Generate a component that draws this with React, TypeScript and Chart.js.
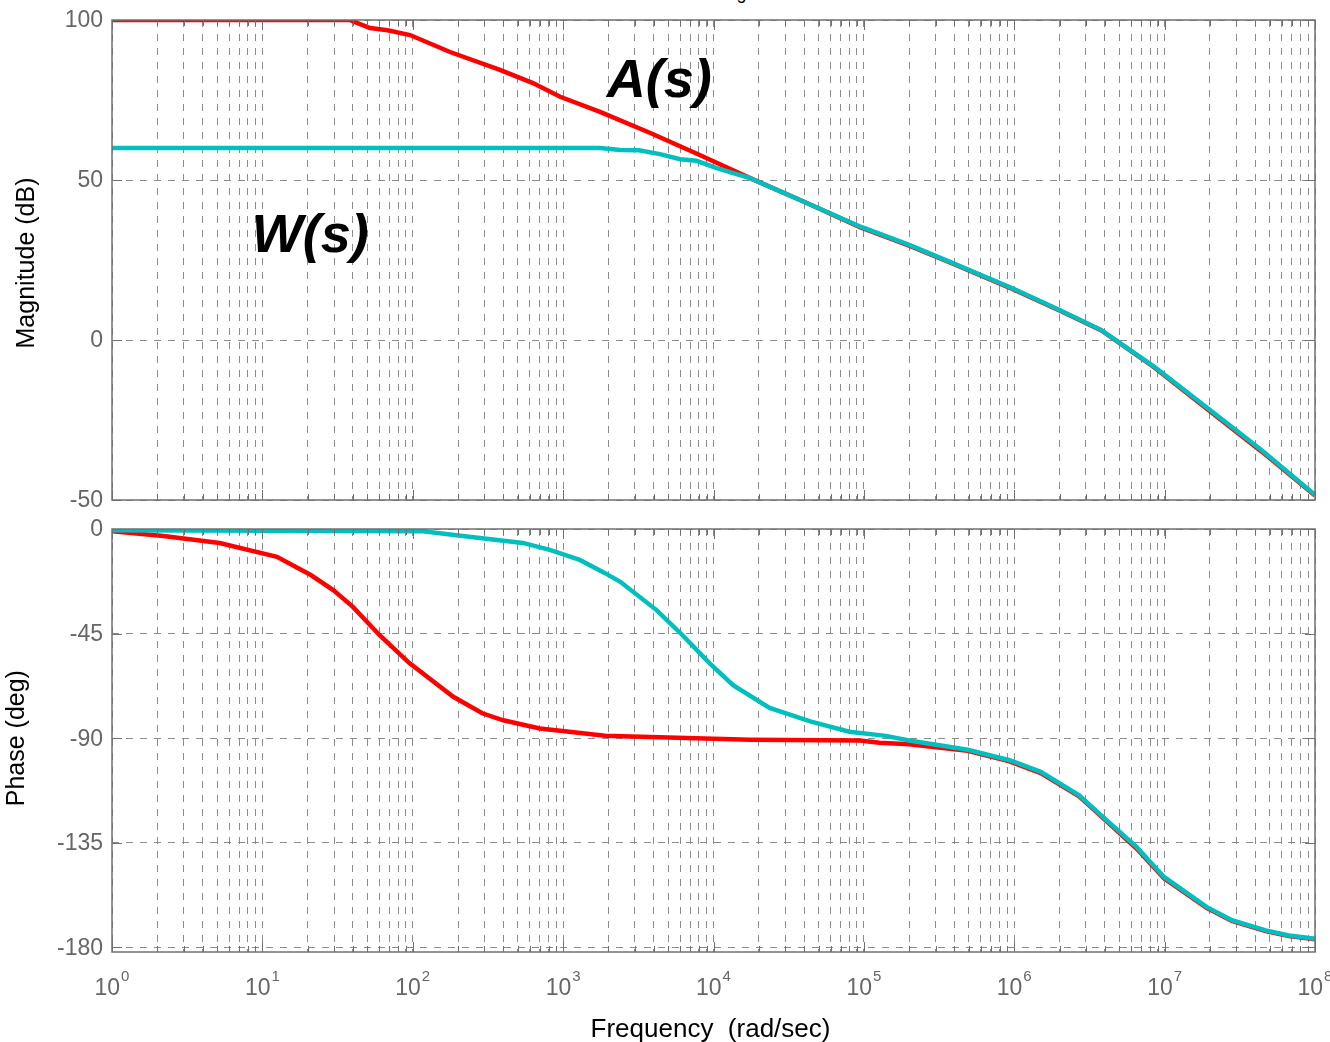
import React, { useEffect, useRef } from "react";
import { Chart, registerables } from "chart.js";
Chart.register(...registerables);

// ---------- data ----------
const decadeExponents = [0, 1, 2, 3, 4, 5, 6, 7, 8];
const magTicks = [100, 50, 0, -50];
const phaseTicks = [0, -45, -90, -135, -180];

// A(s) magnitude (red)
const magFreqA = [1, 38, 52, 68, 96, 177, 380, 630, 955, 1760, 3800, 8100, 17500, 40000, 95000, 2e5, 3.7e5, 9.8e5, 2e6, 3.8e6, 8.5e6, 1.87e7, 4.4e7, 1e8];
const magA = [100, 100, 97.5, 96.8, 95.3, 90, 84.4, 80.3, 76, 71.3, 64.7, 57.8, 50.6, 43.2, 35.2, 29.5, 24.3, 15.9, 9.2, 3.0, -8.5, -21.2, -34.8, -48.6];

// W(s) magnitude (cyan)
const magFreqW = [1, 1760, 2400, 3200, 4400, 6000, 7700, 10500, 17500, 40000, 95000, 2e5, 3.7e5, 9.8e5, 2e6, 3.8e6, 8.5e6, 1.87e7, 4.4e7, 1e8];
const magW = [60, 60, 59.4, 59.3, 58.1, 56.5, 56, 53.7, 50.6, 43.2, 35.4, 29.7, 24.5, 16.1, 9.4, 3.1, -8.3, -20.8, -34.4, -48.4];

// A(s) phase (red)
const phFreqA = [1, 2.2, 5.2, 12.5, 21, 29.6, 40, 60, 95, 186, 290, 400, 700, 1900, 17500, 94000, 1.27e5, 2e5, 4.9e5, 9.3e5, 1.5e6, 2.7e6, 4e6, 6.5e6, 9.9e6, 1.9e7, 2.8e7, 4.7e7, 6.7e7, 1e8];
const phA = [-1, -3, -6, -12, -19.8, -26.3, -33.5, -45.6, -57.7, -72.2, -79.3, -82.3, -85.8, -89, -90.7, -91, -92, -92.6, -95.4, -100, -105, -115, -125, -137.5, -150.3, -163, -168.6, -173, -175.1, -176.5];

// W(s) phase (cyan)
const phFreqW = [1, 117, 215, 540, 815, 1290, 1900, 2400, 4200, 6200, 9400, 13500, 23600, 44000, 80000, 1.4e5, 2e5, 4.9e5, 9.3e5, 1.5e6, 2.7e6, 4e6, 6.5e6, 9.9e6, 1.9e7, 2.8e7, 4.7e7, 6.7e7, 1e8];
const phW = [-0.5, -1, -3, -6, -9, -13.3, -19, -22.7, -35, -45.6, -57.7, -67.2, -77, -82.8, -87.2, -89, -91, -95, -99.5, -104.5, -114.6, -124.6, -136.8, -149.7, -162.6, -168.3, -172.7, -174.9, -176.3];

// curve labels
const curveLabels = ["A(s)", "W(s)"];
const curveLabelFreqs = [1950, 8.5];
const curveLabelMags = [75.9, 27.5];

const COLOR_A = "#ff0000";
const COLOR_W = "#00bfbf";
const FONT = "'Liberation Sans', Arial, Helvetica, sans-serif";
const GRID = "#8c8c8c";
const FRAME = "#707070";
const TICKCOL = "#666666";

// grid positions on a log axis (1..9 × each decade)
const xGridValues: number[] = [];
for (let d = 0; d < 8; d++) for (let k = 1; k <= 9; k++) xGridValues.push(k * Math.pow(10, d));
xGridValues.push(1e8);

const pts = (xs: number[], ys: number[]) => xs.map((x, i) => ({ x, y: ys[i] }));

function framePlugin(yTicks: number[]) {
  return {
    id: "frame",
    afterDraw(chart: any) {
      const { ctx, chartArea: a, scales } = chart;
      ctx.save();
      ctx.strokeStyle = FRAME;
      ctx.lineWidth = 1;
      ctx.setLineDash([]);
      ctx.beginPath();
      for (const v of xGridValues) {
        const px = Math.round(scales.x.getPixelForValue(v)) + 0.5;
        const major = Math.abs(Math.log10(v) - Math.round(Math.log10(v))) < 1e-9;
        const len = major ? 10 : 6;
        ctx.moveTo(px, a.top);
        ctx.lineTo(px, a.top + len);
        ctx.moveTo(px, a.bottom);
        ctx.lineTo(px, a.bottom - len);
      }
      for (const v of yTicks) {
        const py = Math.round(scales.y.getPixelForValue(v)) + 0.5;
        ctx.moveTo(a.left, py);
        ctx.lineTo(a.left + 10, py);
        ctx.moveTo(a.right, py);
        ctx.lineTo(a.right - 10, py);
      }
      ctx.stroke();
      ctx.lineWidth = 1.5;
      ctx.strokeRect(a.left, a.top, a.right - a.left, a.bottom - a.top);
      // y tick labels
      ctx.fillStyle = TICKCOL;
      ctx.font = `23px ${FONT}`;
      ctx.textAlign = "right";
      ctx.textBaseline = "middle";
      for (const v of yTicks) {
        ctx.fillText(String(v), a.left - 9, scales.y.getPixelForValue(v) + 1);
      }
      ctx.restore();
    },
  };
}

function baseOptions(yMin: number, yMax: number, yTicks: number[], xHeight: number, padding: any) {
  return {
    responsive: false,
    animation: false as const,
    devicePixelRatio: 1,
    layout: { padding },
    plugins: { legend: { display: false }, tooltip: { enabled: false }, title: { display: false } },
    elements: { point: { radius: 0 }, line: { tension: 0 } },
    scales: {
      x: {
        type: "logarithmic" as const,
        min: 1,
        max: 1e8,
        afterBuildTicks: (s: any) => {
          s.ticks = xGridValues.map((v) => ({ value: v }));
        },
        afterFit: (s: any) => {
          s.height = xHeight;
        },
        ticks: { display: false },
        grid: { color: GRID, lineWidth: 1, drawTicks: false, borderDash: [7, 7] },
        border: { display: false, dash: [7, 7] },
      },
      y: {
        type: "linear" as const,
        min: yMin,
        max: yMax,
        afterBuildTicks: (s: any) => {
          s.ticks = yTicks.map((v) => ({ value: v }));
        },
        afterFit: (s: any) => {
          s.width = 112;
        },
        ticks: { display: false },
        grid: { color: GRID, lineWidth: 1, drawTicks: false, borderDash: [7, 7] },
        border: { display: false, dash: [7, 7] },
      },
    },
  };
}

export default function App() {
  const topRef = useRef<HTMLCanvasElement>(null);
  const botRef = useRef<HTMLCanvasElement>(null);

  useEffect(() => {
    const topOpts: any = baseOptions(-50, 100, magTicks, 0, { left: 0, top: 20, right: 15, bottom: 10 });
    const topChart = new Chart(topRef.current!, {
      type: "line",
      data: {
        datasets: [
          { data: pts(magFreqW, magW), borderColor: COLOR_W, borderWidth: 4.5, pointRadius: 0, fill: false },
          { data: pts(magFreqA, magA), borderColor: COLOR_A, borderWidth: 4.5, pointRadius: 0, fill: false },
        ],
      },
      options: topOpts,
      plugins: [
        framePlugin(magTicks),
        {
          id: "topText",
          afterDraw(chart: any) {
            const { ctx, scales } = chart;
            ctx.save();
            ctx.fillStyle = "#000";
            ctx.font = `italic bold 54px ${FONT}`;
            ctx.textBaseline = "alphabetic";
            ctx.textAlign = "left";
            curveLabels.forEach((t, i) => {
              ctx.fillText(t, scales.x.getPixelForValue(curveLabelFreqs[i]), scales.y.getPixelForValue(curveLabelMags[i]));
            });
            ctx.font = `25px ${FONT}`;
            ctx.textAlign = "center";
            ctx.textBaseline = "middle";
            ctx.translate(27, 263);
            ctx.rotate(-Math.PI / 2);
            ctx.fillText("Magnitude (dB)", 0, 0);
            ctx.restore();
          },
        },
      ],
    } as any);

    const botOpts: any = baseOptions(-182, 0, phaseTicks, 90, { left: 0, top: 19, right: 15, bottom: 0 });
    const botChart = new Chart(botRef.current!, {
      type: "line",
      data: {
        datasets: [
          { data: pts(phFreqW, phW), borderColor: COLOR_W, borderWidth: 4.5, pointRadius: 0, fill: false },
          { data: pts(phFreqA, phA), borderColor: COLOR_A, borderWidth: 4.5, pointRadius: 0, fill: false },
        ],
      },
      options: botOpts,
      plugins: [
        framePlugin(phaseTicks),
        {
          id: "botText",
          afterDraw(chart: any) {
            const { ctx, scales, chartArea: a } = chart;
            ctx.save();
            ctx.fillStyle = TICKCOL;
            ctx.textBaseline = "alphabetic";
            ctx.textAlign = "left";
            const baseY = a.bottom + 43;
            decadeExponents.forEach((e) => {
              const px = scales.x.getPixelForValue(Math.pow(10, e));
              ctx.font = `23px ${FONT}`;
              const w1 = ctx.measureText("10").width;
              ctx.font = `15px ${FONT}`;
              const w2 = ctx.measureText(String(e)).width;
              const start = px - (w1 + 1 + w2) / 2;
              ctx.font = `23px ${FONT}`;
              ctx.fillText("10", start, baseY);
              ctx.font = `15px ${FONT}`;
              ctx.fillText(String(e), start + w1 + 1, baseY - 14);
            });
            ctx.fillStyle = "#000";
            ctx.font = `26px ${FONT}`;
            ctx.textAlign = "center";
            ctx.fillText("Frequency  (rad/sec)", (a.left + a.right) / 2 - 3, a.bottom + 85);
            ctx.textBaseline = "middle";
            ctx.translate(17, scales.y.getPixelForValue(-90));
            ctx.rotate(-Math.PI / 2);
            ctx.font = `25px ${FONT}`;
            ctx.fillText("Phase (deg)", 0, 0);
            ctx.restore();
          },
        },
      ],
    } as any);

    return () => {
      topChart.destroy();
      botChart.destroy();
    };
  }, []);

  return (
    <div style={{ position: "absolute", left: 0, top: 0, width: 1330, height: 1042, overflow: "hidden", background: "#fff" }}>
      <div
        style={{
          position: "absolute",
          left: 0,
          width: 1440,
          top: -16,
          lineHeight: "18px",
          fontSize: 18,
          fontFamily: FONT,
          color: "#000",
          textAlign: "center",
          whiteSpace: "nowrap",
        }}
      >
        Bode Diagram
      </div>
      <canvas ref={topRef} width={1330} height={510} style={{ position: "absolute", left: 0, top: 0, display: "block" }} />
      <canvas ref={botRef} width={1330} height={532} style={{ position: "absolute", left: 0, top: 510, display: "block" }} />
    </div>
  );
}
